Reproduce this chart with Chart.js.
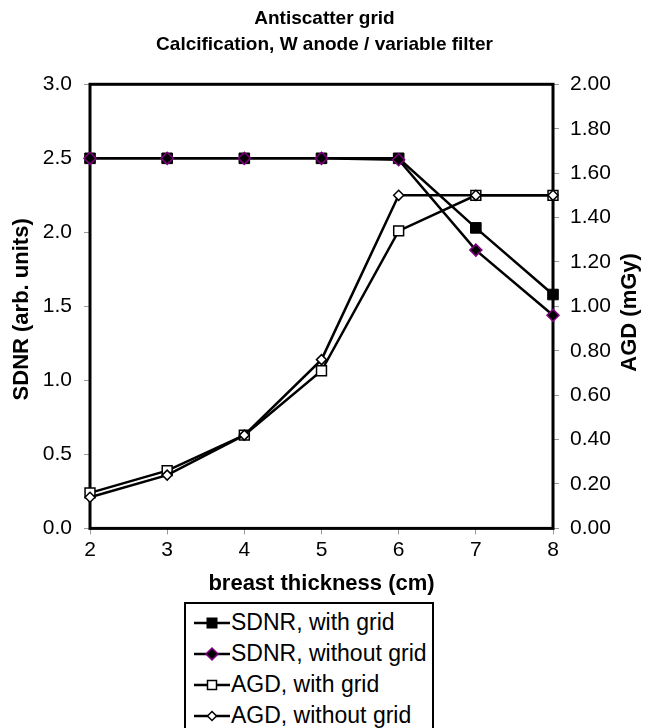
<!DOCTYPE html>
<html>
<head>
<meta charset="utf-8">
<script src="https://cdn.jsdelivr.net/npm/chart.js@4.4.1/dist/chart.umd.min.js"></script>
<style>
  html, body { margin: 0; padding: 0; background: #fff; overflow: hidden; }
  #wrap { position: relative; width: 649px; height: 728px; }
  #chartBox { position: absolute; left: 0; top: 0; width: 649px; height: 600px; }
  #legend { position: absolute; left: 184px; top: 602px; width: 250px; height: 132px;
    border: 2px solid #000; box-sizing: border-box; padding-top: 3px;
    font: 23px Arial, "Liberation Sans", sans-serif; color: #000; }
  .row { height: 31px; display: flex; align-items: center; white-space: nowrap; }
  .row svg { margin-left: 8px; margin-right: 1px; }
</style>
</head>
<body>
<div id="wrap">
  <div id="chartBox"><canvas id="gridChart"></canvas></div>
  <div id="legend"></div>
</div>
<script>
// breast thickness (cm)
const thickness = ['2', '3', '4', '5', '6', '7', '8'];
// SDNR (left axis, arb. units)
const sdnrWithGrid    = [2.50, 2.50, 2.50, 2.50, 2.50, 2.03, 1.58];
const sdnrWithoutGrid = [2.50, 2.50, 2.50, 2.50, 2.49, 1.88, 1.44];
// AGD (right axis, mGy)
const agdWithGrid     = [0.16, 0.26, 0.42, 0.71, 1.34, 1.50, 1.50];
const agdWithoutGrid  = [0.14, 0.24, 0.42, 0.76, 1.50, 1.50, 1.50];

const titleLines = ['Antiscatter grid', 'Calcification, W anode / variable filter'];
const seriesNames = ['SDNR, with grid', 'SDNR, without grid', 'AGD, with grid', 'AGD, without grid'];

const FONT = 'Arial, "Liberation Sans", sans-serif';

// thick black frame round the plot area
const framePlugin = {
  id: 'frame',
  beforeDatasetsDraw(chart) {
    const a = chart.chartArea, ctx = chart.ctx;
    ctx.save();
    ctx.strokeStyle = '#000';
    ctx.lineWidth = 3;
    ctx.strokeRect(a.left, a.top, a.right - a.left, a.bottom - a.top);
    ctx.restore();
  }
};

// both axis titles read bottom-to-top, like the original
function sideTitle(ctx, text, x, y) {
  ctx.save();
  ctx.fillStyle = '#000';
  ctx.font = 'bold 22px ' + FONT;
  ctx.textAlign = 'center';
  ctx.textBaseline = 'middle';
  ctx.translate(x, y);
  ctx.rotate(-Math.PI / 2);
  ctx.fillText(text, 0, 0);
  ctx.restore();
}
const axisTitles = {
  id: 'axisTitles',
  afterDraw(chart) {
    const a = chart.chartArea;
    const mid = (a.top + a.bottom) / 2;
    sideTitle(chart.ctx, 'SDNR (arb. units)', 22, mid + 3);
    sideTitle(chart.ctx, 'AGD (mGy)', 630, mid + 6);
  }
};

const tickGrid = { drawOnChartArea: false, drawTicks: true, tickLength: 6, color: '#999', lineWidth: 1 };

new Chart(document.getElementById('gridChart'), {
  type: 'line',
  data: {
    labels: thickness,
    datasets: [
      { label: seriesNames[0], data: sdnrWithGrid, yAxisID: 'ySdnr', order: 4,
        borderColor: '#000', borderWidth: 2.5, pointStyle: 'rect', pointRadius: 7.5,
        pointBackgroundColor: '#000', pointBorderColor: '#000', pointBorderWidth: 1 },
      { label: seriesNames[1], data: sdnrWithoutGrid, yAxisID: 'ySdnr', order: 3,
        borderColor: '#000', borderWidth: 2.5, pointStyle: 'rectRot', pointRadius: 6,
        pointBackgroundColor: '#000', pointBorderColor: '#800080', pointBorderWidth: 1.5 },
      { label: seriesNames[2], data: agdWithGrid, yAxisID: 'yAgd', order: 2,
        borderColor: '#000', borderWidth: 2.5, pointStyle: 'rect', pointRadius: 7,
        pointBackgroundColor: '#fff', pointBorderColor: '#000', pointBorderWidth: 1.5 },
      { label: seriesNames[3], data: agdWithoutGrid, yAxisID: 'yAgd', order: 1,
        borderColor: '#000', borderWidth: 2.5, pointStyle: 'rectRot', pointRadius: 5,
        pointBackgroundColor: '#fff', pointBorderColor: '#000', pointBorderWidth: 1.5 }
    ].map(d => Object.assign(d, { tension: 0, fill: false, clip: false, pointHoverRadius: d.pointRadius }))
  },
  options: {
    responsive: true,
    maintainAspectRatio: false,
    animation: false,
    layout: { padding: { left: 0, right: 0, top: 0, bottom: 3 } },
    plugins: {
      legend: { display: false },
      tooltip: { enabled: false },
      title: {
        display: true,
        text: titleLines,
        color: '#000',
        font: { family: FONT, size: 19, weight: 'bold', lineHeight: 1.35 },
        padding: { top: 6, bottom: 27 }
      }
    },
    scales: {
      x: {
        offset: false,
        grid: tickGrid,
        border: { display: false },
        ticks: { color: '#000', font: { family: FONT, size: 21 }, padding: 3, maxRotation: 0 },
        title: { display: true, text: 'breast thickness (cm)', color: '#000',
          font: { family: FONT, size: 22, weight: 'bold' }, padding: { top: 5, bottom: 0 } }
      },
      ySdnr: {
        position: 'left',
        min: 0, max: 3,
        grid: tickGrid,
        border: { display: false },
        ticks: { stepSize: 0.5, color: '#000', font: { family: FONT, size: 21 }, padding: 12,
          callback: v => v.toFixed(1) },
        afterFit: s => { s.width = 90; }
      },
      yAgd: {
        position: 'right',
        min: 0, max: 2,
        grid: tickGrid,
        border: { display: false },
        ticks: { stepSize: 0.2, color: '#000', font: { family: FONT, size: 21 }, padding: 11,
          callback: v => v.toFixed(2) },
        afterFit: s => { s.width = 96; }
      }
    }
  },
  plugins: [framePlugin, axisTitles]
});

// legend box built from the same series names and marker styles
const legendMarkers = [
  '<rect x="12.5" y="5.5" width="11" height="11" fill="#000"/>',
  '<polygon points="18,5 24,11 18,17 12,11" fill="#000" stroke="#800080" stroke-width="1.5"/>',
  '<rect x="13.5" y="6.5" width="9" height="9" fill="#fff" stroke="#000" stroke-width="1.5"/>',
  '<polygon points="18,6.5 22.5,11 18,15.5 13.5,11" fill="#fff" stroke="#000" stroke-width="1.5"/>'
];
document.getElementById('legend').innerHTML = seriesNames.map((name, i) =>
  '<div class="row"><svg width="36" height="22" viewBox="0 0 36 22">' +
  '<line x1="0" y1="11" x2="36" y2="11" stroke="#000" stroke-width="2.5"/>' +
  legendMarkers[i] + '</svg><span>' + name + '</span></div>'
).join('');
</script>
</body>
</html>
